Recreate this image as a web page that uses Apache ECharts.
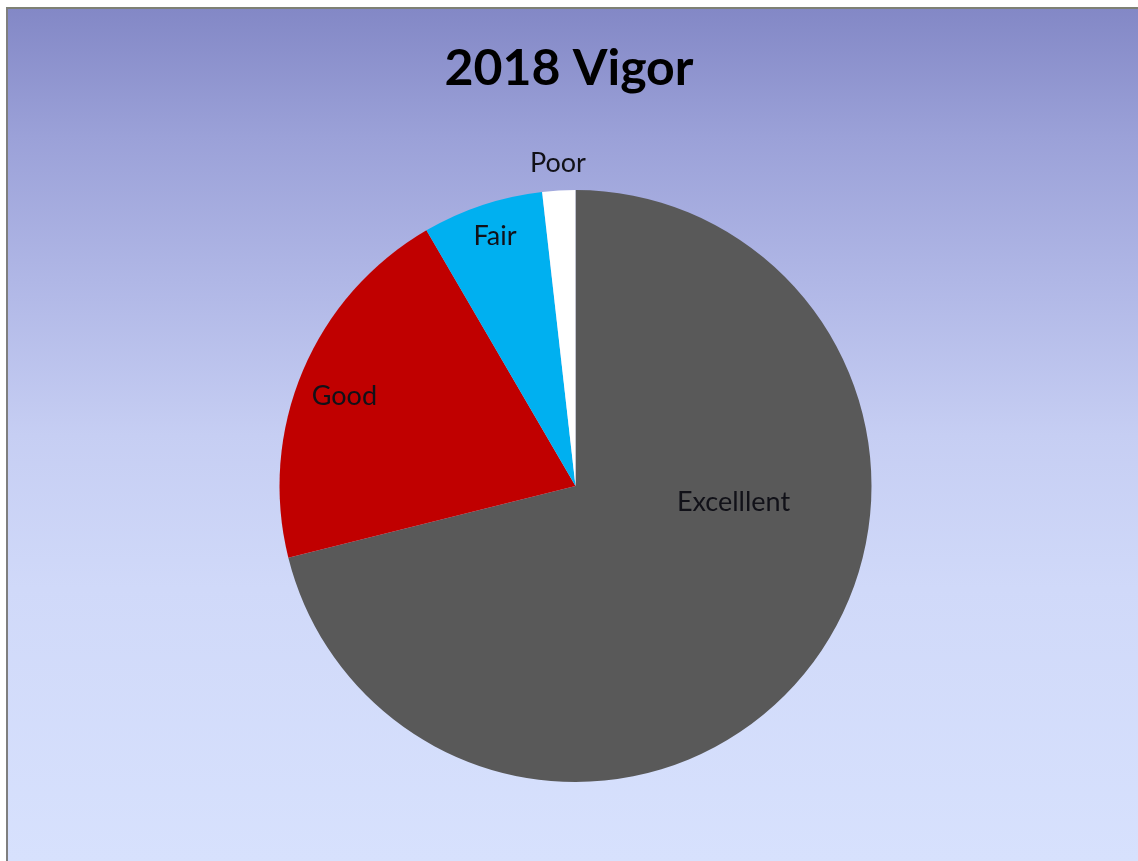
<!DOCTYPE html>
<html>
<head>
<meta charset="utf-8">
<script src="https://cdn.jsdelivr.net/npm/echarts@6/dist/echarts.min.js"></script>
<style>
  html, body { margin: 0; padding: 0; background: #ffffff; }
  #frame {
    position: absolute; left: 6px; top: 7px; right: 0; bottom: 0;
    border-top: 2px solid #7e8174; border-left: 2px solid #7f7f7f;
    background: linear-gradient(to bottom, #8388c6 0%, #9ba1d8 15%, #b0b7e6 32%, #c6cef3 50%, #d0d9f9 68%, #d7e1fd 100%);
  }
  #chart { position: absolute; left: 0; top: 0; width: 1138px; height: 861px; }
</style>
</head>
<body>
<div id="frame"></div>
<div id="chart"></div>
<script>
// Tree vigor classes for 2018 and their share of the total (%)
const categories = ['Excelllent', 'Good', 'Fair', 'Poor'];
const shares = [71.1, 20.5, 6.6, 1.8];
const colors = ['#595959', '#c00000', '#00b0f0', '#ffffff'];

// label nudges from the default inside-slice spot, per slice
const labelShift = [[39, -77], [-92, -31], [-33, -106], [-9, -172]];

const chart = echarts.init(document.getElementById('chart'), null, { renderer: 'canvas' });

chart.setOption({
  backgroundColor: 'transparent',
  animation: false,
  title: {
    text: '2018 Vigor',
    left: 'center',
    top: 39,
    textStyle: { fontFamily: 'Lato', fontWeight: 'bold', fontSize: 50, color: '#000000' }
  },
  series: [{
    type: 'pie',
    center: [575.5, 486],
    radius: [0, 296],
    startAngle: 90,
    clockwise: true,
    avoidLabelOverlap: false,
    label: {
      show: true,
      position: 'inside',
      formatter: '{b}',
      fontFamily: 'Lato',
      fontSize: 27,
      color: '#111118'
    },
    labelLine: { show: false },
    labelLayout: function (params) {
      const s = labelShift[params.dataIndex];
      return { dx: s[0], dy: s[1] };
    },
    itemStyle: { borderWidth: 0 },
    emphasis: { disabled: true },
    data: categories.map((name, i) => ({
      name: name,
      value: shares[i],
      itemStyle: { color: colors[i] }
    }))
  }]
});
</script>
</body>
</html>
